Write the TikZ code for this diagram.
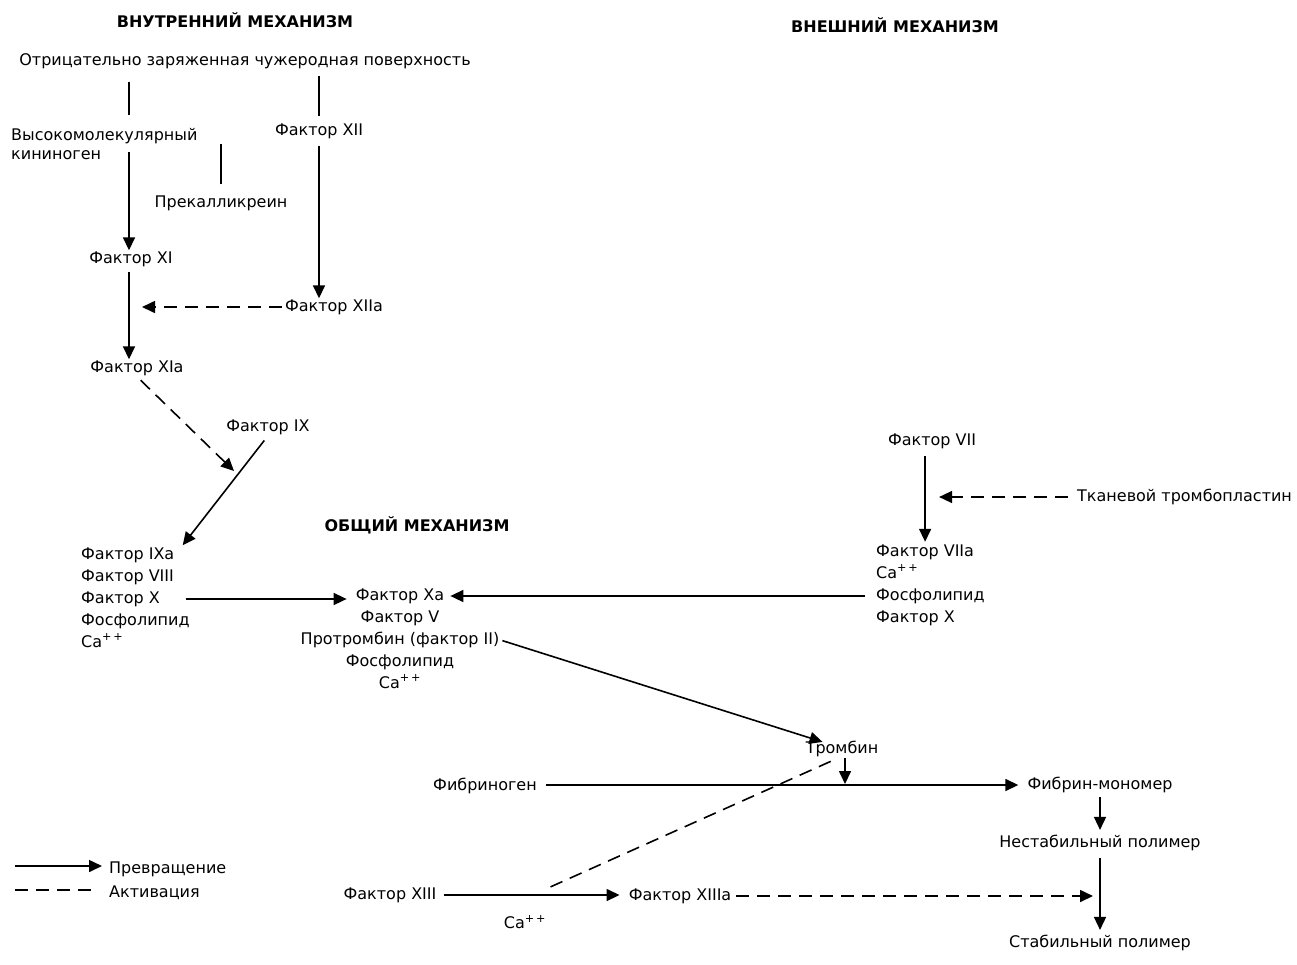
\documentclass[tikz,border=0pt]{standalone}
\usepackage{fontspec}
\setmainfont{DejaVu Sans}
\usetikzlibrary{matrix, arrows.meta}
\tikzset{
  lbl/.style={inner sep=1pt, font=\fontsize{16}{19}\selectfont},
  hdr/.style={inner sep=1pt, font=\fontsize{16}{19}\selectfont\bfseries},
  blk/.style={matrix of nodes, row sep=6pt, inner sep=0pt,
    nodes={inner sep=1pt, text height=11pt, text depth=3pt, font=\fontsize{16}{19}\selectfont}},
  plain/.style={line width=1.6pt},
  conv/.style={line width=1.6pt, -{Triangle[length=13pt,width=12pt]}},
  act/.style={line width=1.6pt, dash pattern=on 13pt off 8pt, -{Triangle[length=13pt,width=12pt]}},
  actline/.style={line width=1.6pt, dash pattern=on 13pt off 8pt}
}
\begin{document}
\begin{tikzpicture}[x=1pt, y=-1pt]
\useasboundingbox (0,0) rectangle (1297,964);
\node[hdr] (hin) at (235,20) {ВНУТРЕННИЙ МЕХАНИЗМ};
\node[hdr] (hex) at (895,25) {ВНЕШНИЙ МЕХАНИЗМ};
\node[hdr] (hcom) at (417,525) {ОБЩИЙ МЕХАНИЗМ};
\node[lbl] (surf) at (245,61) {Отрицательно заряженная чужеродная поверхность};
\node[lbl, anchor=west, align=left] (kin) at (10,144) {Высокомолекулярный\\кининоген};
\node[lbl] (f12) at (319,131) {Фактор XII};
\node[lbl] (prek) at (221,203) {Прекалликреин};
\node[lbl] (f11) at (131,259) {Фактор XI};
\node[lbl] (f12a) at (334,307) {Фактор XIIa};
\node[lbl] (f11a) at (137,368) {Фактор XIa};
\node[lbl] (f9) at (268,427) {Фактор IX};
\matrix[blk, nodes={anchor=west}, anchor=west] (lb) at (80,599)
{
  Фактор IXa\\
  Фактор VIII\\
  Фактор X\\
  Фосфолипид\\
  Ca\textsuperscript{+\,+}\\
};
\matrix[blk, anchor=center] (cb) at (400,640)
{
  Фактор Xa\\
  Фактор V\\
  Протромбин (фактор II)\\
  Фосфолипид\\
  Ca\textsuperscript{+\,+}\\
};
\node[lbl] (f7) at (932,441) {Фактор VII};
\node[lbl, anchor=west] (tiss) at (1076,497) {Тканевой тромбопластин};
\matrix[blk, nodes={anchor=west}, anchor=west] (rb) at (875,585)
{
  Фактор VIIa\\
  Ca\textsuperscript{+\,+}\\
  Фосфолипид\\
  Фактор X\\
};
\node[lbl] (thr) at (842,749) {Тромбин};
\node[lbl] (fibg) at (485,786) {Фибриноген};
\node[lbl] (fibm) at (1100,785) {Фибрин-мономер};
\node[lbl] (unst) at (1100,843) {Нестабильный полимер};
\node[lbl] (stab) at (1100,943) {Стабильный полимер};
\node[lbl] (f13) at (390,895) {Фактор XIII};
\node[lbl] (ca13) at (525,922) {Ca\textsuperscript{+\,+}};
\node[lbl] (f13a) at (680,896) {Фактор XIIIa};
\node[lbl, anchor=west] (lconv) at (108,869) {Превращение};
\node[lbl, anchor=west] (lact) at (108,893) {Активация};
\coordinate (c1) at (129,115);
\coordinate (c2) at (129,152);
\coordinate (j9) at (234,471);
\coordinate (j13) at (548,888);
\coordinate (l1) at (15,866);
\coordinate (l2) at (15,890);
\draw[plain, shorten <=12pt] (surf.south -| c1) -- (c1);
\draw[conv] (c2) -- (f11.north -| c2);
\draw[plain, shorten <=6pt, shorten >=6pt] (surf.south -| f12.north) -- (f12.north);
\draw[conv, shorten <=6pt] (f12.south) -- (f12.south |- f12a.north);
\draw[plain] ([yshift=10pt]prek.north) -- ++(0,-40);
\draw[act, shorten <=2pt, shorten >=13pt] (f12a.west) -- (f12a.west -| c1);
\draw[conv, shorten <=4pt] (f11.south -| c1) -- (f11a.north -| c1);
\draw[act, shorten <=5pt] (f11a.south) -- (j9);
\draw[conv, shorten <=6pt, shorten >=2pt] (f9.south) -- ([xshift=6pt]lb-1-1.north east);
\draw[conv, shorten <=25pt, shorten >=8pt] (lb-3-1.east) -- (lb-3-1.east -| cb-1-1.west);
\draw[conv, shorten <=10pt, shorten >=5pt] (rb-3-1.west) -- (rb-3-1.west -| cb-1-1.east);
\draw[conv, shorten <=6pt, shorten >=2pt] (f7.south -| rb-1-1.north) -- (rb-1-1.north);
\draw[act, shorten <=8pt, shorten >=14pt] (tiss.west) -- (tiss.west -| rb-1-1.north);
\draw[conv, shorten <=2pt] (cb-3-1.east) -- ([xshift=18pt,yshift=-2pt]thr.north west);
\draw[conv, shorten >=1pt] ([xshift=3pt]thr.south) -- ([xshift=3pt]thr.south |- fibm.center);
\draw[conv, shorten <=8pt, shorten >=8pt] (fibg.east |- fibm.west) -- (fibm.west);
\draw[conv, shorten <=3pt, shorten >=4pt] (fibm.south) -- (unst.north);
\draw[conv, shorten <=6pt, shorten >=4pt] (unst.south) -- (stab.north);
\draw[conv, shorten <=6pt, shorten >=8pt] (f13.east) -- (f13.east -| f13a.west);
\draw[actline, shorten <=8pt] ([xshift=-4pt]thr.south) -- (j13);
\draw[act, shorten <=4pt, shorten >=7pt] (f13a.east) -- (f13a.east -| stab.north);
\draw[conv, shorten >=6pt] (l1) -- (l1 -| lconv.west);
\draw[actline, shorten >=10pt] (l2) -- (l2 -| lact.west);
\end{tikzpicture}
\end{document}
